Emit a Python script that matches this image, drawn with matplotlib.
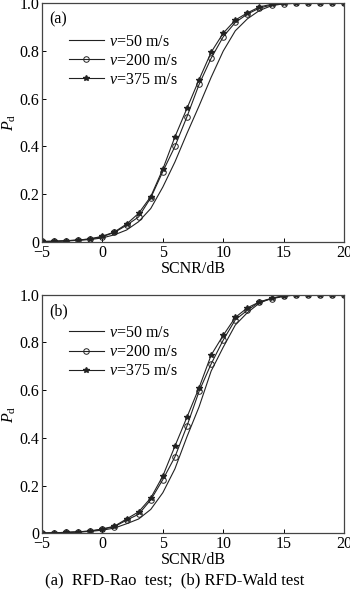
import numpy as np
import matplotlib
matplotlib.use("Agg")
import matplotlib.pyplot as plt

plt.rcParams['font.family'] = 'Liberation Serif'
plt.rcParams['mathtext.fontset'] = 'custom'
plt.rcParams['mathtext.it'] = 'Liberation Serif:italic'
plt.rcParams['mathtext.rm'] = 'Liberation Serif'

# SCNR axis (dB)
snr = np.arange(-5, 21)

# (a) RFD-Rao test
rao_v50 = [0.0, 0.002, 0.004, 0.007, 0.010, 0.017, 0.030, 0.050, 0.085, 0.140, 0.230, 0.335, 0.455,
           0.570, 0.690, 0.800, 0.885, 0.935, 0.970, 0.990, 0.998, 1, 1, 1, 1, 1]
rao_v200 = [0.002, 0.003, 0.005, 0.008, 0.012, 0.022, 0.040, 0.070, 0.105, 0.185, 0.295, 0.400, 0.525,
            0.660, 0.770, 0.860, 0.920, 0.955, 0.980, 0.993, 0.998, 1, 1, 1, 1, 1]
rao_v375 = [0.002, 0.003, 0.005, 0.008, 0.013, 0.024, 0.042, 0.075, 0.120, 0.190, 0.305, 0.440, 0.560,
            0.680, 0.795, 0.875, 0.930, 0.960, 0.985, 0.996, 1, 1, 1, 1, 1, 1]

# (b) RFD-Wald test
wald_v50 = [0.0, 0.002, 0.003, 0.005, 0.008, 0.013, 0.022, 0.040, 0.060, 0.100, 0.170, 0.270, 0.405,
            0.530, 0.680, 0.780, 0.873, 0.925, 0.965, 0.985, 0.995, 0.998, 1, 1, 1, 1]
wald_v200 = [0.001, 0.002, 0.004, 0.006, 0.009, 0.017, 0.028, 0.055, 0.080, 0.140, 0.225, 0.320, 0.450,
             0.595, 0.710, 0.810, 0.895, 0.935, 0.970, 0.983, 0.993, 1, 1, 1, 1, 1]
wald_v375 = [0.001, 0.002, 0.004, 0.006, 0.010, 0.018, 0.030, 0.060, 0.090, 0.148, 0.240, 0.365, 0.487,
             0.610, 0.747, 0.830, 0.905, 0.945, 0.970, 0.985, 0.995, 1, 1, 1, 1, 1]

labels = [r'$v$=50 m/s', r'$v$=200 m/s', r'$v$=375 m/s']
panels = ['(a)', '(b)']
data = [[rao_v50, rao_v200, rao_v375], [wald_v50, wald_v200, wald_v375]]

fig = plt.figure(figsize=(3.5, 5.93), dpi=100)
ax_pos = [[0.12, 0.592, 0.863, 0.4024], [0.12, 0.1007, 0.863, 0.4023]]

lc = '#222222'
for k in range(2):
    ax = fig.add_axes(ax_pos[k])
    v50, v200, v375 = data[k]
    ax.plot(snr, v50, '-', color=lc, lw=0.8, label=labels[0])
    ax.plot(snr, v200, '-', color=lc, lw=0.8, marker='o', ms=4, mfc='none',
            mew=0.7, label=labels[1])
    ax.plot(snr, v375, '-', color=lc, lw=0.8, marker='*', ms=4, label=labels[2])
    ax.set_xlim(-5, 20)
    ax.set_ylim(0, 1.0)
    ax.set_xticks([-5, 0, 5, 10, 15, 20])
    ax.set_xticklabels(['\u22125', '0', '5', '10', '15', '20'])
    ax.set_yticks([0, 0.2, 0.4, 0.6, 0.8, 1.0])
    ax.set_yticklabels(['0', '0.2', '0.4', '0.6', '0.8', '1.0'])
    ax.tick_params(direction='in', length=3, labelsize=11.5, width=0.7, pad=2)
    for s in ax.spines.values():
        s.set_color('#444444')
        s.set_linewidth(0.9)
    ax.set_xlabel('SCNR/dB', fontsize=11.5, labelpad=0)
    ax.set_ylabel(r'$P_{\rm d}$', fontsize=11.5, labelpad=1)
    ax.text(0.025, 0.965, panels[k], transform=ax.transAxes, fontsize=11.5,
            va='top', ha='left')
    ax.legend(loc='upper left', bbox_to_anchor=(0.068, 0.9), frameon=False,
              fontsize=11.5, handlelength=2.2, handletextpad=0.3,
              labelspacing=0.2, borderaxespad=0)

fig.text(0.5, 0.022, '(a)  RFD-Rao  test;  (b) RFD-Wald test', ha='center',
         va='center', fontsize=12)

fig.savefig('out.png', dpi=100)
